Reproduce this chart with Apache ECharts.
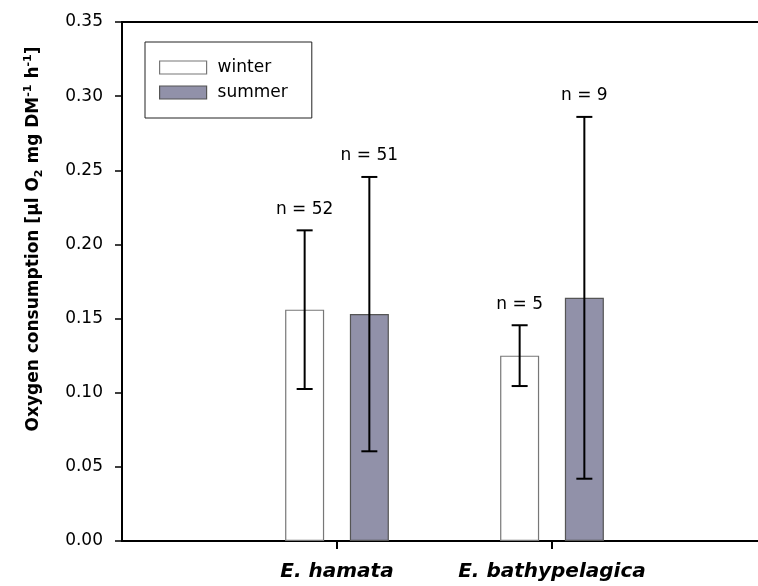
<!DOCTYPE html>
<html>
<head>
<meta charset="utf-8">
<script src="https://cdn.jsdelivr.net/npm/echarts@6/dist/echarts.min.js"></script>
<style>html,body{margin:0;padding:0;background:#fff;}#c{width:758px;height:586px;}</style>
</head>
<body>
<div id="c"></div>
<script>
// categories (empty end slots give the axis its spacing)
const categories = ['', 'E. hamata', 'E. bathypelagica', ''];
const seriesNames = ['winter', 'summer'];
// mean oxygen consumption
const winterMean = ['-', 0.156, 0.125, '-'];
const summerMean = ['-', 0.153, 0.164, '-'];
// standard deviations (error bars)
const winterSD = [null, 0.0535, 0.0205, null];
const summerSD = [null, 0.0925, 0.122, null];
// sample sizes
const winterN = [null, 52, 5, null];
const summerN = [null, 51, 9, null];
const yTicks = [0, 0.05, 0.10, 0.15, 0.20, 0.25, 0.30, 0.35];

const FONT = 'DejaVu Sans';
const BAR_W = 39;
const OFFSET = 32.35;

function errData(mean, sd, n) {
  const out = [];
  for (let i = 0; i < mean.length; i++) {
    if (sd[i] != null) out.push([i, mean[i], sd[i], n[i]]);
  }
  return out;
}

function makeRender(dx) {
  return function (params, api) {
    const i = api.value(0), m = api.value(1), s = api.value(2), n = api.value(3);
    const top = api.coord([i, m + s]);
    const bot = api.coord([i, m - s]);
    const x = top[0] + dx;
    const st = { stroke: '#000', lineWidth: 2 };
    return {
      type: 'group',
      children: [
        { type: 'line', shape: { x1: x, y1: top[1], x2: x, y2: bot[1] }, style: st },
        { type: 'line', shape: { x1: x - 8, y1: top[1], x2: x + 8, y2: top[1] }, style: st },
        { type: 'line', shape: { x1: x - 8, y1: bot[1], x2: x + 8, y2: bot[1] }, style: st },
        { type: 'text', x: x, y: top[1] - 21,
          style: { text: 'n = ' + n, font: '17px "' + FONT + '"', fill: '#000', align: 'center', verticalAlign: 'middle' } }
      ]
    };
  };
}

const chart = echarts.init(document.getElementById('c'), null, { renderer: 'canvas' });
chart.setOption({
  animation: false,
  backgroundColor: '#fff',
  grid: { left: 122, top: 22, width: 645, height: 519, outerBoundsMode: 'none', containLabel: false,
          show: true, borderColor: '#000', borderWidth: 2, backgroundColor: 'transparent' },
  legend: {
    orient: 'vertical', left: 145, top: 42,
    padding: [17, 24, 17, 14],
    borderColor: '#222', borderWidth: 1,
    itemWidth: 47, itemHeight: 13, itemGap: 8,
    icon: 'rect',
    textStyle: { fontFamily: FONT, fontSize: 17, color: '#000', padding: [0, 0, 0, 6] },
    data: [
      { name: seriesNames[0], itemStyle: { color: '#fff', borderColor: '#777', borderWidth: 1.2 } },
      { name: seriesNames[1], itemStyle: { color: '#9191a9', borderColor: '#555', borderWidth: 1.2 } }
    ]
  },
  xAxis: {
    type: 'category', data: categories, boundaryGap: false,
    axisLine: { lineStyle: { color: '#000', width: 2 } },
    axisTick: { length: 8, lineStyle: { color: '#000', width: 2 }, interval: function (i) { return i === 1 || i === 2; } },
    axisLabel: { interval: 0, margin: 21, fontFamily: FONT, fontSize: 20, fontWeight: 'bold', fontStyle: 'italic', color: '#000' },
    splitLine: { show: false }
  },
  yAxis: {
    type: 'value', min: yTicks[0], max: yTicks[yTicks.length - 1], interval: 0.05,
    axisLine: { show: true, lineStyle: { color: '#000', width: 2 } },
    axisTick: { show: true, length: 7, lineStyle: { color: '#000', width: 1.5 } },
    axisLabel: { margin: 19, fontFamily: FONT, fontSize: 17, color: '#000', formatter: function (v) { return v.toFixed(2); } },
    splitLine: { show: false }
  },
  graphic: [{
    type: 'text', x: 34, y: 239, rotation: Math.PI / 2,
    style: {
      text: 'Oxygen consumption [µl O{sub|2} mg DM{sup|-1} h{sup|-1}]',
      fontFamily: FONT, fontSize: 17, fontWeight: 'bold', fill: '#000',
      align: 'center', verticalAlign: 'middle',
      rich: {
        sub: { fontFamily: FONT, fontSize: 11, fontWeight: 'bold', verticalAlign: 'bottom', lineHeight: 22 },
        sup: { fontFamily: FONT, fontSize: 11, fontWeight: 'bold', verticalAlign: 'top', lineHeight: 22 }
      }
    }
  }],
  series: [
    { name: seriesNames[0], type: 'bar', data: winterMean, barWidth: BAR_W, barGap: '66%',
      itemStyle: { color: '#fff', borderColor: '#777', borderWidth: 1.2 } },
    { name: seriesNames[1], type: 'bar', data: summerMean, barWidth: BAR_W, barGap: '66%',
      itemStyle: { color: '#9191a9', borderColor: '#555', borderWidth: 1.2 } },
    { type: 'custom', name: 'winterErr', data: errData(winterMean, winterSD, winterN), renderItem: makeRender(-OFFSET), z: 10, encode: { x: 0, y: 1 } },
    { type: 'custom', name: 'summerErr', data: errData(summerMean, summerSD, summerN), renderItem: makeRender(OFFSET), z: 10, encode: { x: 0, y: 1 } }
  ]
});
</script>
</body>
</html>
